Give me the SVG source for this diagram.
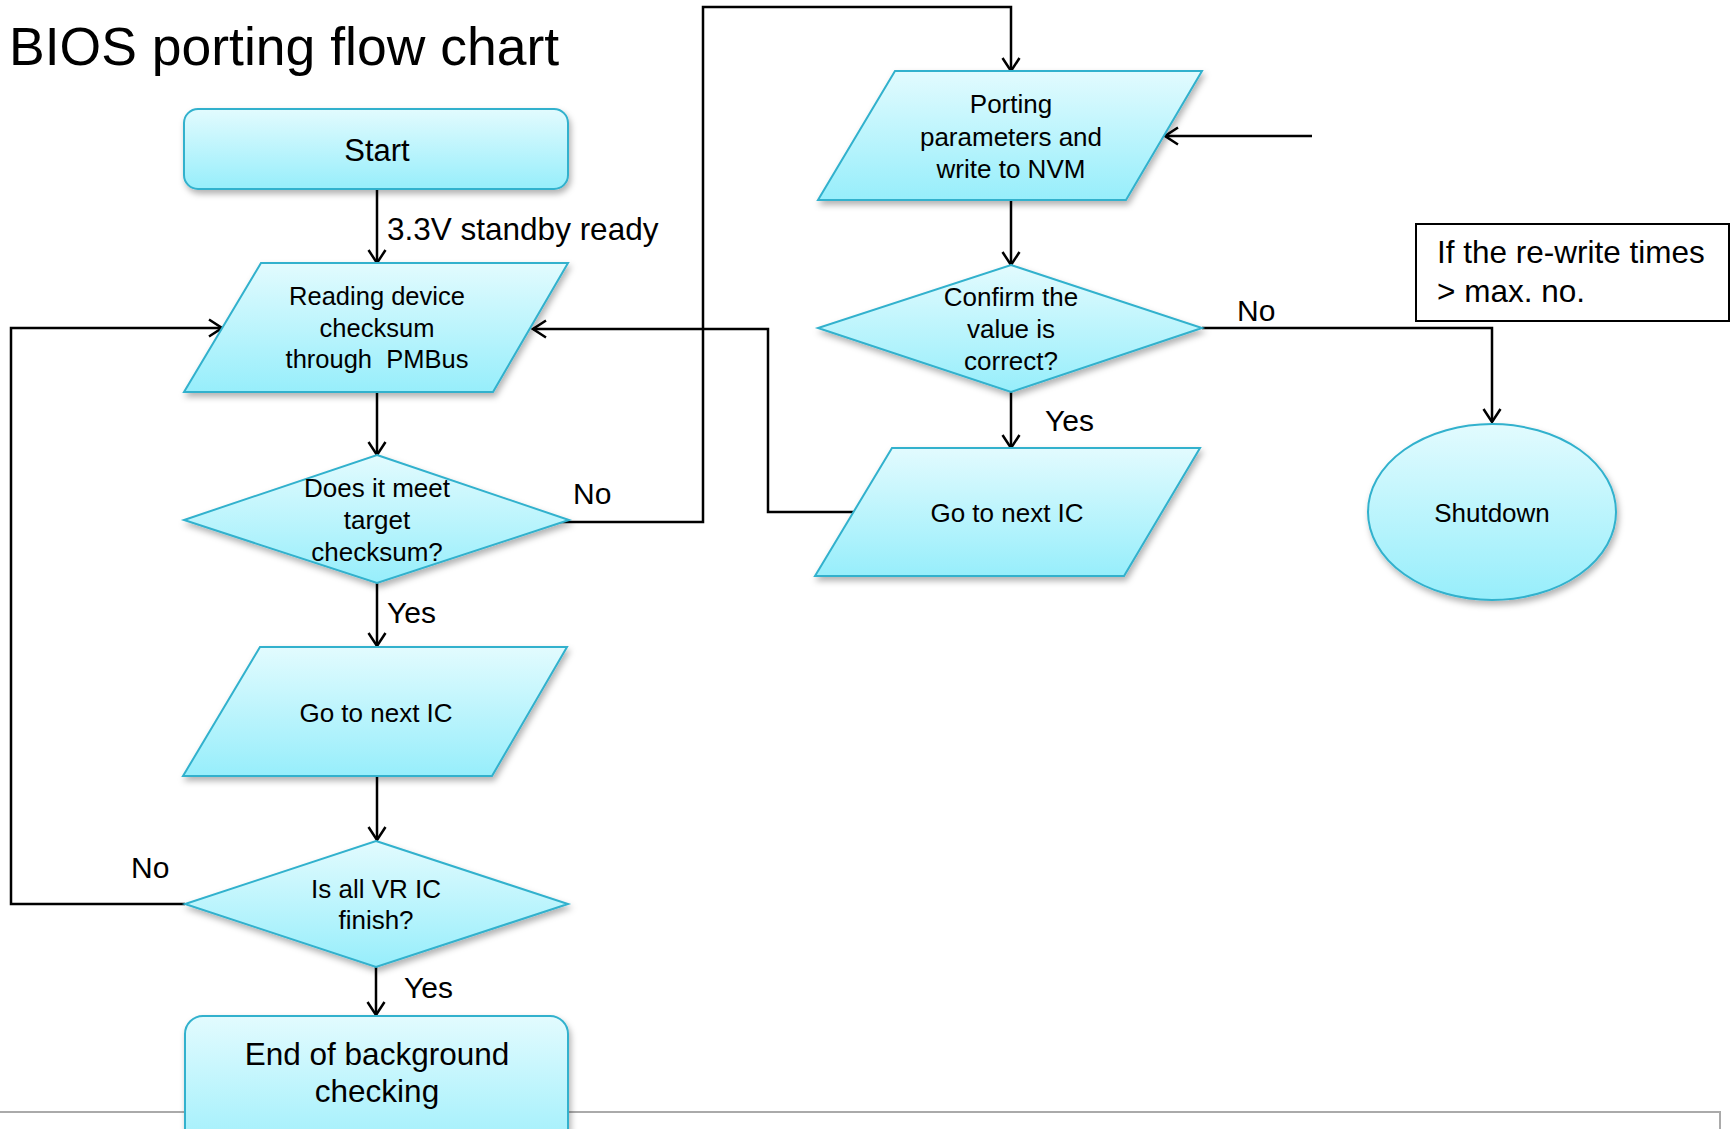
<svg xmlns="http://www.w3.org/2000/svg" width="1735" height="1129" viewBox="0 0 1735 1129">
<style>
.node{fill:url(#g);stroke:#31b1cd;stroke-width:2;filter:url(#sh)}
.t{font-family:"Liberation Sans",Arial,sans-serif;fill:#000;text-anchor:middle}
.nt{font-size:26px}
.lb{font-family:"Liberation Sans",Arial,sans-serif;font-size:30px;fill:#000}
.lb2{font-family:"Liberation Sans",Arial,sans-serif;font-size:31.5px;fill:#000}
.ca{fill:none;stroke:#000;stroke-width:2.5;marker-end:url(#ar)}
</style>
<defs>
<linearGradient id="g" x1="0" y1="0" x2="0" y2="1">
<stop offset="0" stop-color="#e2fbfe"/>
<stop offset="1" stop-color="#97eefb"/>
</linearGradient>
<filter id="sh" x="-10%" y="-10%" width="125%" height="130%">
<feDropShadow dx="2" dy="4" stdDeviation="3" flood-color="#000" flood-opacity="0.3"/>
</filter>
<marker id="ar" viewBox="-15 -10 17 20" markerWidth="17" markerHeight="20" refX="0" refY="0" orient="auto" markerUnits="userSpaceOnUse">
<path d="M-13,-8.5 L0,0 L-13,8.5" fill="none" stroke="#000" stroke-width="2.5"/>
</marker>
</defs>
<rect width="1735" height="1129" fill="#fff"/>
<path d="M0,1112 H1720 V1129" fill="none" stroke="#aaa" stroke-width="2"/>
<text x="9" y="65" font-family="'Liberation Sans',Arial,sans-serif" font-size="53.5">BIOS porting flow chart</text>

<g id="connectors">
<path class="ca" d="M377,189 V263"/>
<path class="ca" d="M377,392 V455"/>
<path class="ca" d="M377,583 V646"/>
<path class="ca" d="M377,776 V840"/>
<path class="ca" d="M376,967 V1015"/>
<path class="ca" d="M185,904 H11 V328 H222"/>
<path class="ca" d="M560,522 H703 V7 H1011 V71"/>
<path class="ca" d="M1011,200 V265"/>
<path class="ca" d="M1011,392 V448"/>
<path class="ca" d="M854,512 H768 V329 H533"/>
<path class="ca" d="M1202,328 H1492 V422"/>
<path class="ca" d="M1312,136 H1165"/>
<text class="lb2" x="387" y="240">3.3V standby ready</text>
<text class="lb" x="573" y="504">No</text>
<text class="lb" x="387" y="623">Yes</text>
<text class="lb" x="131" y="878">No</text>
<text class="lb" x="404" y="998">Yes</text>
<text class="lb" x="1237" y="321">No</text>
<text class="lb" x="1045" y="431">Yes</text>
</g>

<g id="start">
<rect class="node" x="184" y="109" width="384" height="80" rx="14"/>
<text class="t" x="377" y="161" font-size="31">Start</text>
</g>
<g id="reading">
<polygon class="node" points="261,263 568,263 493,392 184,392"/>
<text class="t" x="377" y="305" font-size="25.5">Reading device</text>
<text class="t" x="377" y="337" font-size="25.5">checksum</text>
<text class="t" x="377" y="368" font-size="25.5">through&#160; PMBus</text>
</g>
<g id="does">
<polygon class="node" points="377,455 569,520 377,583 184,520"/>
<text class="t nt" x="377" y="497">Does it meet</text>
<text class="t nt" x="377" y="529">target</text>
<text class="t nt" x="377" y="561">checksum?</text>
</g>
<g id="next1">
<polygon class="node" points="260,647 567,647 492,776 183,776"/>
<text class="t nt" x="376" y="722">Go to next IC</text>
</g>
<g id="isall">
<polygon class="node" points="376,841 568,904 376,967 185,904"/>
<text class="t nt" x="376" y="898">Is all VR IC</text>
<text class="t nt" x="376" y="929">finish?</text>
</g>
<g id="end">
<rect class="node" x="185" y="1016" width="383" height="150" rx="18"/>
<text class="t" x="377" y="1065" font-size="31.5">End of background</text>
<text class="t" x="377" y="1102" font-size="31.5">checking</text>
</g>
<g id="porting">
<polygon class="node" points="895,71 1202,71 1126,200 818,200"/>
<text class="t nt" x="1011" y="113">Porting</text>
<text class="t nt" x="1011" y="146">parameters and</text>
<text class="t nt" x="1011" y="178">write to NVM</text>
</g>
<g id="confirm">
<polygon class="node" points="1011,265 1202,328 1011,392 818,328"/>
<text class="t nt" x="1011" y="306">Confirm the</text>
<text class="t nt" x="1011" y="338">value is</text>
<text class="t nt" x="1011" y="370">correct?</text>
</g>
<g id="next2">
<polygon class="node" points="892,448 1200,448 1124,576 815,576"/>
<text class="t nt" x="1007" y="522">Go to next IC</text>
</g>
<g id="shutdown">
<ellipse class="node" cx="1492" cy="512" rx="124" ry="88"/>
<text class="t nt" x="1492" y="522">Shutdown</text>
</g>
<g id="note">
<rect x="1416" y="224" width="313" height="97" fill="#fff" stroke="#000" stroke-width="2"/>
<text class="lb2" x="1437" y="263">If the re-write times</text>
<text class="lb2" x="1437" y="302">&gt; max. no.</text>
</g>
</svg>
